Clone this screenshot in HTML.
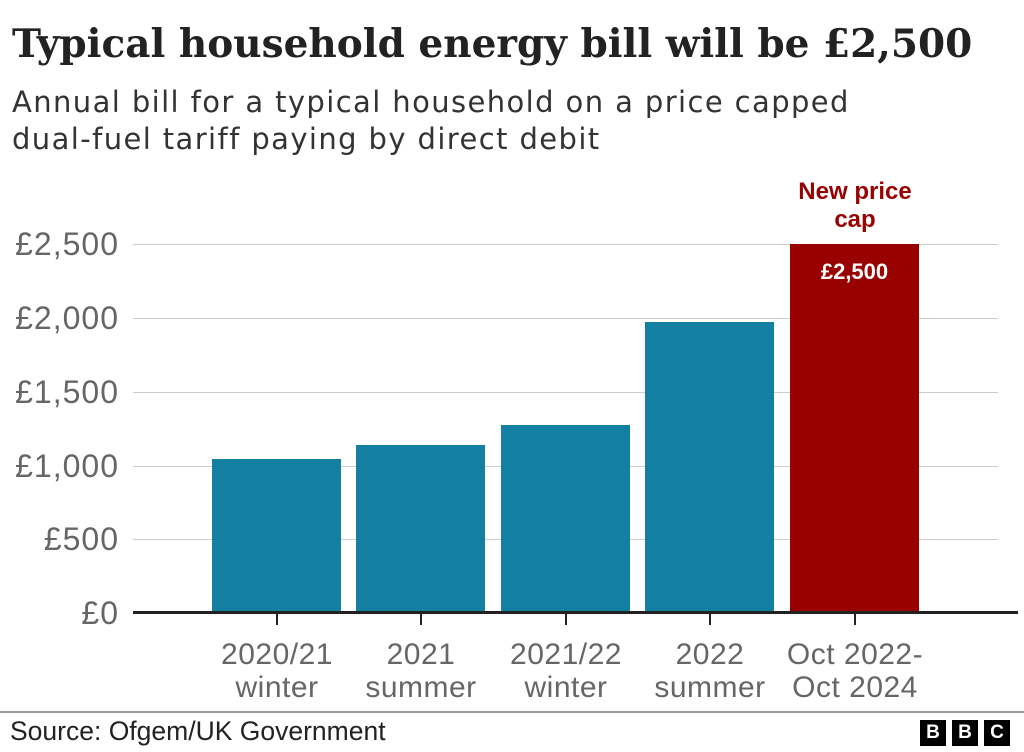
<!DOCTYPE html>
<html><head><meta charset="utf-8"><style>
body{margin:0;width:1024px;height:752px;background:#fff;position:relative;overflow:hidden;font-family:"Liberation Sans",sans-serif}
.a{position:absolute;white-space:nowrap}
.yl{position:absolute;left:0;width:119px;text-align:right;font-size:32px;color:#666;letter-spacing:1px}
.g{position:absolute;left:133px;width:865px;height:1px;background:#ccc}
.bar{position:absolute;background:#1380A1;width:129px}
.xl{position:absolute;width:170px;text-align:center;font-size:30px;color:#666;line-height:33px;letter-spacing:0.5px}
.tk{position:absolute;top:613px;width:2px;height:12px;background:#222}
.bb{position:absolute;top:720px;width:26px;height:26px;background:#000;color:#fff;font-weight:bold;font-size:19px;text-align:center;line-height:26px}
</style></head><body>
<div class="a" style="left:12px;top:21px;font-family:'DejaVu Serif','Liberation Serif',serif;font-weight:bold;font-size:39px;color:#222">Typical household energy bill will be £2,500</div>
<div class="a" style="left:12px;top:84px;font-family:'DejaVu Sans',sans-serif;font-size:29px;color:#333;line-height:37px;letter-spacing:1.4px">Annual bill for a typical household on a price capped<br>dual-fuel tariff paying by direct debit</div>
<div class="g" style="top:244px"></div><div class="g" style="top:318px"></div><div class="g" style="top:392px"></div><div class="g" style="top:466px"></div><div class="g" style="top:539px"></div>
<div class="yl" style="top:226px">£2,500</div><div class="yl" style="top:300px">£2,000</div><div class="yl" style="top:374px">£1,500</div><div class="yl" style="top:448px">£1,000</div><div class="yl" style="top:521px">£500</div><div class="yl" style="top:595px">£0</div>
<div class="bar" style="left:212px;top:459px;height:154px"></div>
<div class="bar" style="left:356px;top:445px;height:168px"></div>
<div class="bar" style="left:501px;top:425px;height:188px"></div>
<div class="bar" style="left:645px;top:322px;height:291px"></div>
<div class="bar" style="left:790px;top:244px;height:369px;background:#990000"></div>
<div class="a" style="left:790px;top:259px;width:129px;text-align:center;color:#fff;font-weight:bold;font-size:22px">£2,500</div>
<div class="a" style="left:775px;top:178px;width:160px;text-align:center;color:#990000;font-weight:bold;font-size:24px;line-height:28px">New price<br>cap</div>
<div class="a" style="left:133px;top:611px;width:885px;height:3px;background:#222"></div>
<div class="tk" style="left:276px"></div><div class="tk" style="left:420px"></div><div class="tk" style="left:565px"></div><div class="tk" style="left:709px"></div><div class="tk" style="left:854px"></div>
<div class="xl" style="left:192px;top:638px">2020/21<br>winter</div>
<div class="xl" style="left:336px;top:638px">2021<br>summer</div>
<div class="xl" style="left:481px;top:638px">2021/22<br>winter</div>
<div class="xl" style="left:625px;top:638px">2022<br>summer</div>
<div class="xl" style="left:770px;top:638px">Oct 2022-<br>Oct 2024</div>
<div class="a" style="left:0;top:711px;width:1024px;height:2px;background:#999"></div>
<div class="a" style="left:10px;top:716px;font-size:26.5px;color:#222">Source: Ofgem/UK Government</div>
<div class="bb" style="left:920px">B</div><div class="bb" style="left:952px">B</div><div class="bb" style="left:984px">C</div>
</body></html>
